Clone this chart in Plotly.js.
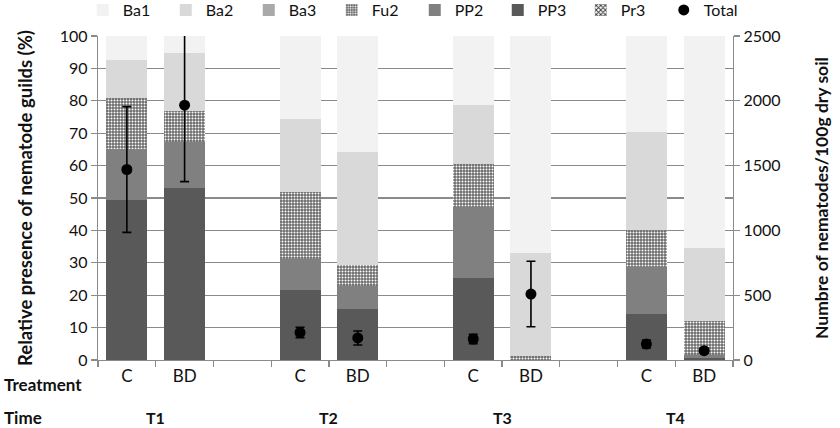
<!DOCTYPE html>
<html>
<head>
<meta charset="utf-8">
<script src="https://cdn.plot.ly/plotly-3.0.1.min.js"></script>
<style>
  html, body { margin: 0; padding: 0; background: #fff; }
  #chart { width: 840px; height: 428px; }
</style>
</head>
<body>
<div id="chart"></div>
<script>
// sampling times and treatments, bars go T1 C, T1 BD, T2 C, ...
var times = ['T1', 'T2', 'T3', 'T4'];
var treatments = ['C', 'BD'];

// relative presence of each guild (%)
var ba1 = [7.5, 5.1, 25.6, 35.7, 21.2, 67.0, 29.6, 65.3];
var ba2 = [11.5, 18.0, 22.7, 35.0, 18.2, 31.7, 30.2, 22.6];
var ba3 = [0, 0, 0, 0, 0, 0, 0, 0];
var fu2 = [15.8, 9.5, 20.6, 6.4, 13.5, 1.3, 11.4, 10.6];
var pp2 = [15.7, 14.2, 9.5, 7.2, 21.9, 0, 14.6, 0.8];
var pp3 = [49.5, 53.2, 21.6, 15.7, 25.2, 0, 14.2, 0.7];
var pr3 = [0, 0, 0, 0, 0, 0, 0, 0];

// total nematodes / 100g dry soil and its error
var total = [1470, 1966, 213, 170, 162, 509, 123, 72];
var totalErr = [485, 590, 40, 54, 36, 253, 30, 22];

// one empty slot between the time groups
var xs = [], tickText = [];
times.forEach(function (t, i) {
  treatments.forEach(function (tr, k) {
    xs.push(3 * i + k);
    tickText.push(tr);
  });
});
var nSlots = 3 * times.length - 1;

var font = 'Lato, "Open Sans", sans-serif';
var gridCol = '#8a8a8a';

function barTrace(name, y, color, rank, pattern) {
  var marker = { color: color, line: { width: 0 } };
  if (pattern) marker.pattern = pattern;
  return {
    type: 'bar', name: name, x: xs, y: y, width: 0.71,
    marker: marker, legendrank: rank, hoverinfo: 'name+y'
  };
}

var data = [
  barTrace('Pr3', pr3, '#ffffff', 7, { shape: 'x', bgcolor: '#ffffff', fgcolor: '#3a3a3a', size: 4, solidity: 0.5 }),
  barTrace('PP3', pp3, '#595959', 6),
  barTrace('PP2', pp2, '#808080', 5),
  barTrace('Fu2', fu2, '#6a6a6a', 4, { shape: '.', bgcolor: '#6a6a6a', fgcolor: '#ffffff', size: 3, solidity: 0.35 }),
  barTrace('Ba3', ba3, '#a9a9a9', 3),
  barTrace('Ba2', ba2, '#d9d9d9', 2),
  barTrace('Ba1', ba1, '#f2f2f2', 1),
  {
    type: 'scatter', mode: 'markers', name: 'Total',
    x: xs, y: total, yaxis: 'y2', legendrank: 8,
    marker: { color: '#000', size: 11, symbol: 'circle' },
    error_y: { type: 'data', array: totalErr, visible: true, color: '#000', thickness: 1.6, width: 4.5 }
  }
];

var annotations = times.map(function (t, i) {
  return {
    text: '<b>' + t + '</b>', x: 3 * i + 0.5, xref: 'x', y: 0, yref: 'paper',
    yanchor: 'middle', yshift: -57, showarrow: false,
    font: { family: font, size: 16, color: '#111' }
  };
});
annotations.push({
  text: '<b>Treatment</b>', x: 0, xref: 'paper', xanchor: 'left', xshift: -96,
  y: 0, yref: 'paper', yanchor: 'middle', yshift: -24, showarrow: false,
  font: { family: font, size: 17, color: '#111' }
});
annotations.push({
  text: '<b>Time</b>', x: 0, xref: 'paper', xanchor: 'left', xshift: -96,
  y: 0, yref: 'paper', yanchor: 'middle', yshift: -57, showarrow: false,
  font: { family: font, size: 17, color: '#111' }
});

var layout = {
  width: 840, height: 428,
  margin: { l: 98, r: 107, t: 36, b: 68, autoexpand: false },
  paper_bgcolor: '#fff', plot_bgcolor: '#fff',
  barmode: 'stack',
  font: { family: font, size: 16, color: '#111' },
  showlegend: true,
  legend: {
    orientation: 'h', traceorder: 'normal',
    x: -0.024, xanchor: 'left', y: 1.08, yanchor: 'middle',
    entrywidth: 38, entrywidthmode: 'pixels',
    font: { family: font, size: 16, color: '#111' }, bgcolor: 'rgba(0,0,0,0)'
  },
  xaxis: {
    range: [-0.5, nSlots - 0.5], tickmode: 'array', tickvals: xs, ticktext: tickText,
    ticks: '', showgrid: false, zeroline: false,
    showline: true, linecolor: gridCol, linewidth: 1.2,
    tickfont: { family: font, size: 17, color: '#111' },
    minor: { tickmode: 'linear', tick0: -0.5, dtick: 1, ticks: 'outside', ticklen: 6, tickcolor: gridCol, tickwidth: 1.2, showgrid: false },
    fixedrange: true
  },
  yaxis: {
    range: [0, 100], dtick: 10, ticks: 'outside', ticklen: 6, tickcolor: gridCol, tickwidth: 1.2,
    showgrid: true, gridcolor: gridCol, gridwidth: 1.2, zeroline: false,
    showline: true, linecolor: gridCol, linewidth: 1.2,
    tickfont: { family: font, size: 16, color: '#111' },
    title: { text: '<b>Relative presence of nematode guilds (%)</b>', font: { family: font, size: 18.5, color: '#111' }, standoff: 22 },
    automargin: false, fixedrange: true
  },
  yaxis2: {
    overlaying: 'y', side: 'right', range: [0, 2500], dtick: 500,
    ticks: 'outside', ticklen: 6, tickcolor: gridCol, tickwidth: 1.2,
    showgrid: false, zeroline: false, showline: true, linecolor: gridCol, linewidth: 1.2,
    tickfont: { family: font, size: 16, color: '#111' },
    title: { text: '<b>Numbre of nematodes/100g dry soil</b>', font: { family: font, size: 17.5, color: '#111' }, standoff: 36 },
    automargin: false, fixedrange: true
  },
  annotations: annotations
};

Plotly.newPlot('chart', data, layout, { displayModeBar: false, staticPlot: true });
</script>
</body>
</html>
